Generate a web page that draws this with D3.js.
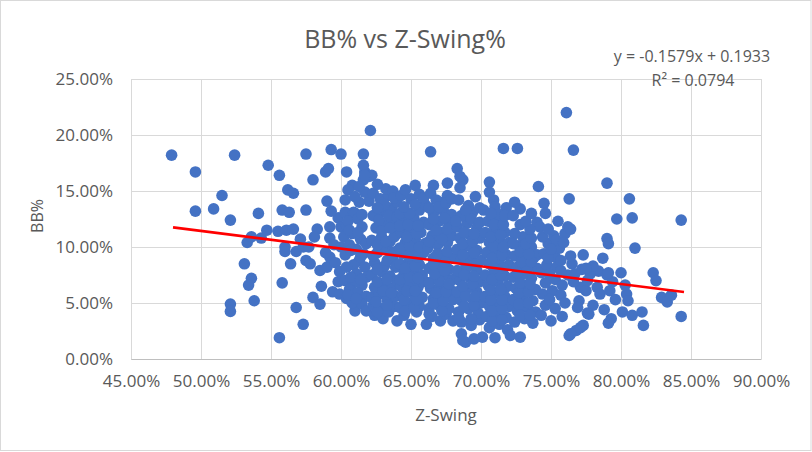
<!DOCTYPE html>
<html>
<head>
<meta charset="utf-8">
<script src="https://cdn.jsdelivr.net/npm/d3@7"></script>
<style>
  body { margin: 0; background: #fff; }
  svg { display: block; }
</style>
</head>
<body>
<div id="chart"></div>
<script>
// Data: Z-Swing % (x) and BB % (y)
const leftPoints = [
  [47.9,18.2],[49.6,16.7],[49.6,13.2],[52.4,18.2],[51.5,14.6],[50.9,13.4],[52.1,12.4],
  [52.1,4.9],[52.1,4.25],[53.1,8.5],[53.6,7.2],[53.4,6.6],[53.8,5.2],[53.3,10.4],[53.6,10.9],
  [54.1,13.0],[54.3,10.8],[54.7,11.5],[54.8,17.3],[55.6,16.4],[55.6,1.9],[55.8,6.8],
  [56.2,15.1],[56.6,14.8],[55.8,13.3],[56.3,13.1],[55.5,11.4],[56.1,11.5],[56.6,11.6],
  [56.0,10.0],[56.0,9.6],[56.8,9.6],[56.4,8.5],[57.1,10.7],[56.8,4.6],[57.3,3.1],[57.5,18.3],
  [57.5,13.3],[58.0,16.0],[58.9,16.7],[59.1,17.0],[59.0,14.1],[59.3,18.7],[60.0,18.3],
  [57.5,8.8],[57.8,8.5],[57.3,10.0],[57.7,10.0]
];

const band58 = [
  [58.3,11.6],[58.1,10.9],[59.2,11.8],[59.2,10.8],[58.6,6.5],[58.0,5.5],[58.5,4.9],[58.5,7.9],
  [59.0,8.2],[59.8,6.9],[59.2,9.1],[58.9,9.5],[59.5,10.2],[59.6,8.6],[59.9,7.8],[59.4,6.0],
  [59.9,5.8],[59.8,12.6],[59.3,13.2],[60.4,5.4]
];

const band60 = [
  [60.0,11.8],[60.4,11.9],[60.2,10.9],[60.0,10.0],[61.0,4.3],[60.3,13.1],[60.9,13.1],
  [60.3,14.2],[60.8,15.5],[60.5,15.1],[60.4,16.7],[61.0,13.0],[60.5,12.3],[61.2,12.5],
  [61.5,11.8],[60.8,11.2],[61.4,10.7],[61.8,10.3],[60.6,10.2],[61.1,9.8],[61.6,9.4],
  [60.3,9.3],[61.3,8.8],[60.9,8.4],[61.7,8.2],[60.4,8.2],[61.1,7.6],[61.8,7.3],[60.3,7.0],
  [60.9,6.8],[61.5,6.6],[60.6,6.2],[61.2,5.9],[61.8,5.6],[60.8,5.0],[61.5,4.9],[61.8,4.3],
  [62.0,14.1],[61.7,14.9],[61.3,14.0],[61.6,16.0],[62.0,16.3],[61.7,16.7],[61.6,17.3],
  [61.6,18.3],[62.1,20.4],[62.2,16.4],[61.7,16.4],
  [60.6,11.5],[61.2,11.3],[60.7,9.7],[61.4,9.1],[60.7,7.3],[61.4,7.1],[60.5,5.7],[61.1,5.4],
  [61.5,12.9],[61.0,14.5],[61.3,15.4]
];

const band62 = [
  [62.4,3.9],[63.0,3.6],[62.3,4.8],[62.8,4.5],[63.4,4.2],[63.8,4.7],[62.2,5.5],[62.7,5.8],
  [63.3,5.3],[63.9,5.6],[62.4,6.4],[63.0,6.7],[63.6,6.3],[62.2,7.5],[62.9,7.8],[63.5,7.4],
  [64.0,7.0],[62.4,8.6],[63.1,8.3],[63.7,8.9],[62.6,9.5],[63.3,9.9],[63.9,9.6],[62.2,10.6],
  [62.9,10.9],[63.5,10.5],[64.0,11.2],[62.5,11.7],[63.2,12.0],[63.8,12.3],[62.3,12.8],
  [62.9,13.2],[63.6,13.5],[62.3,14.8],[62.8,14.3],[63.4,14.6],[64.0,14.0],[63.2,15.2],
  [62.6,15.6],[63.7,15.0],
  [62.6,4.2],[63.3,4.8],[62.5,5.1],[63.0,6.1],[63.6,5.9],[62.6,6.9],[63.3,7.1],[62.6,8.0],
  [63.3,8.8],[63.9,8.2],[62.3,9.2],[62.9,9.9],[63.6,9.3],[62.6,10.2],[63.2,10.5],[63.8,10.9],
  [62.9,11.4],[63.5,11.7],[62.7,12.4],[63.4,12.8],[64.0,12.7],[63.1,13.8],[62.6,13.5],[63.8,14.4]
];

const band64 = [
  [64.0,3.4],[65.0,3.1],[64.5,3.9],[65.4,4.2],[64.2,4.6],[64.8,5.0],[65.6,4.7],[64.4,5.7],
  [65.1,5.9],[65.8,5.5],[64.3,6.5],[64.9,6.8],[65.5,6.4],[66.0,6.9],[64.5,7.6],[65.2,7.9],
  [65.8,7.5],[64.2,8.5],[64.9,8.8],[65.6,8.4],[64.4,9.4],[65.1,9.8],[65.9,9.5],[64.6,10.4],
  [65.3,10.7],[66.0,10.3],[64.3,11.3],[64.9,11.6],[65.7,11.3],[64.5,12.3],[65.2,12.6],
  [65.9,12.2],[64.2,13.0],[65.6,13.3],[66.0,13.8],[64.3,14.6],[65.3,15.5],[65.0,14.3],
  [65.6,14.7],[64.6,15.1],
  [64.6,4.3],[65.2,4.6],[64.5,5.3],[65.4,5.3],[64.7,6.1],[65.3,6.1],[64.2,7.1],[64.9,7.3],
  [65.5,7.2],[64.6,8.1],[65.3,8.3],[64.8,9.2],[65.5,9.1],[64.2,9.9],[64.9,10.1],[65.6,10.0],
  [64.7,10.9],[65.4,11.2],[64.2,11.9],[64.8,12.0],[65.5,11.9],[64.9,13.0],[65.3,13.8],
  [64.5,13.6],[65.9,14.4]
];

const band66 = [
  [66.1,3.1],[67.1,3.4],[66.5,3.8],[67.5,4.0],[66.3,4.5],[67.0,4.8],[67.7,4.5],[66.6,5.4],
  [67.3,5.7],[68.0,5.3],[66.4,6.3],[67.1,6.5],[67.8,6.2],[66.7,7.2],[67.4,7.5],[68.0,7.1],
  [66.3,8.1],[67.0,8.4],[67.7,8.0],[66.6,9.0],[67.3,9.3],[68.0,9.0],[66.2,9.9],[66.9,10.2],
  [67.6,10.4],[66.5,11.0],[67.2,11.3],[67.9,11.0],[66.3,12.0],[67.0,12.3],[67.7,12.1],
  [66.6,13.0],[67.3,13.3],[67.9,12.9],[66.6,15.5],[67.6,15.7],[66.4,14.8],[67.1,14.0],
  [66.8,14.2],[67.6,14.6],[66.4,18.5],
  [66.3,4.0],[67.2,4.3],[66.6,5.0],[67.3,5.2],[66.8,5.9],[67.5,6.0],[66.3,6.8],[67.0,7.0],
  [67.7,6.7],[66.7,7.6],[67.4,7.9],[66.6,8.5],[67.4,8.7],[66.9,9.4],[67.6,9.6],[66.3,10.5],
  [67.2,10.7],[66.8,11.5],[67.6,11.6],[66.6,12.5],[67.4,12.6],[66.3,13.5],[67.0,13.6],
  [67.5,13.9],[67.9,14.3]
];

const band68 = [
  [68.0,3.4],[68.6,2.25],[68.9,1.5],[68.7,1.65],[69.5,1.8],[70.1,1.95],[68.6,3.3],[69.3,3.0],
  [69.9,3.5],[68.4,4.2],[69.1,4.5],[69.8,4.1],[68.6,5.2],[69.4,5.4],[70.0,5.0],[68.3,6.0],
  [69.0,6.3],[69.7,6.0],[68.5,7.0],[69.2,7.3],[69.9,6.9],[68.3,7.9],[69.0,8.2],[69.7,7.9],
  [68.6,8.9],[69.3,9.2],[70.0,8.8],[68.3,9.8],[69.0,10.1],[69.7,9.7],[68.5,10.8],[69.2,11.1],
  [69.9,10.8],[68.3,11.8],[69.0,12.1],[69.7,11.7],[68.6,12.8],[69.4,13.1],[68.4,14.2],
  [69.1,13.7],[68.5,15.3],[68.7,16.0],[68.3,17.0],[68.5,16.3],[69.6,14.5],
  [68.4,3.7],[69.3,3.6],[68.8,4.7],[69.5,4.8],[68.9,5.6],[69.6,5.6],[68.7,6.5],[69.4,6.7],
  [68.8,7.5],[69.5,7.4],[68.9,8.5],[69.6,8.5],[68.7,9.3],[69.5,9.5],[68.7,10.3],[69.4,10.5],
  [68.8,11.3],[69.5,11.2],[68.2,12.3],[69.3,12.5],[69.9,12.2],[68.9,13.3],[69.9,13.5]
];

const band70 = [
  [71.0,1.9],[70.6,2.8],[71.3,3.1],[71.9,2.6],[70.4,3.8],[71.1,4.1],[71.8,3.7],[70.6,4.7],
  [71.3,5.0],[72.0,4.7],[70.3,5.6],[71.0,5.9],[71.7,5.6],[70.5,6.6],[71.2,6.9],[71.9,6.5],
  [70.3,7.5],[71.0,7.8],[71.7,7.4],[70.6,8.5],[71.3,8.8],[72.0,8.4],[70.4,9.5],[71.1,9.7],
  [71.8,9.3],[70.6,10.4],[71.3,10.7],[72.0,10.4],[70.3,11.3],[71.0,11.6],[71.7,11.3],
  [70.5,12.3],[71.2,12.6],[70.9,14.2],[71.0,13.6],[71.8,13.5],[70.6,15.8],[70.6,14.9],
  [71.6,18.8],[72.6,18.8],[71.3,12.9],[70.2,13.3],
  [70.8,3.4],[71.5,3.5],[70.8,4.3],[71.5,4.5],[70.7,5.3],[71.5,5.3],[70.7,6.2],[71.4,6.2],
  [70.8,7.1],[71.4,7.5],[70.9,8.1],[71.6,8.1],[70.8,9.0],[71.5,9.3],[70.9,10.1],[71.6,10.0],
  [70.7,10.9],[71.4,11.1],[70.9,12.0],[71.6,12.0],[71.7,12.8],[70.7,13.0]
];

const band72 = [
  [72.1,2.1],[72.8,1.95],[72.4,3.3],[73.1,3.6],[73.7,3.2],[72.6,4.3],[73.3,4.6],[73.9,4.2],
  [72.3,5.3],[73.0,5.6],[73.7,5.2],[72.5,6.3],[73.2,6.6],[73.9,6.2],[72.3,7.3],[73.0,7.6],
  [73.6,7.2],[72.6,8.2],[73.3,8.5],[74.0,8.1],[72.4,9.2],[73.1,9.5],[73.8,9.1],[72.7,10.1],
  [73.6,10.0],[73.0,10.9],[72.4,11.2],[72.8,12.0],[72.8,13.4],[74.0,9.3],[74.0,12.2],
  [74.2,11.8],[74.5,13.9],[74.6,13.0],[74.1,15.4],[72.3,12.8],
  [72.8,3.9],[73.5,3.9],[72.7,4.9],[73.4,5.0],[72.7,5.9],[73.4,6.0],[72.8,6.8],[73.5,6.7],
  [72.6,7.7],[73.3,7.9],[72.9,8.7],[73.6,8.7],[72.8,9.6],[73.4,9.4],[72.3,10.3],[73.2,10.3],
  [73.6,10.8],[73.5,11.6],[73.2,12.3],[73.6,13.0],[72.4,14.0]
];

const band74 = [
  [74.3,3.9],[75.0,3.4],[74.6,4.8],[75.3,4.5],[74.4,5.8],[75.1,6.1],[75.7,5.7],[74.6,6.8],
  [75.3,7.1],[74.3,7.7],[74.7,8.4],[75.4,8.2],[76.2,7.5],[74.5,9.4],[75.3,9.1],[75.6,9.9],
  [74.8,10.3],[75.2,11.0],[75.4,10.6],[74.4,10.9],[76.0,11.2],[76.2,11.8],[76.3,14.3],
  [76.1,22.0],[76.6,18.65],[75.8,6.6],[76.0,5.0],[75.8,3.8],[76.3,2.1],[76.8,2.55],[77.3,3.0],
  [74.9,5.3],[74.9,7.6],[75.7,7.9],[74.8,9.0],[75.7,8.8],[75.0,9.8],[75.9,10.4],[74.8,11.6],
  [75.5,12.3]
];

const band76 = [
  [76.5,8.5],[76.7,7.6],[77.0,5.2],[77.1,6.4],[77.5,6.1],[78.3,6.4],[78.5,5.8],[77.6,4.1],
  [78.4,7.85],[79.0,7.5],[77.8,7.6],[79.2,6.1],[79.4,6.9],[79.1,7.7],[80.0,7.7],[79.3,3.6],
  [79.1,3.2],[77.3,9.3],[78.7,9.0],[79.0,10.75],[79.1,10.3],[79.0,15.7],[79.7,12.5],
  [76.4,9.2],[76.9,4.6],[78.0,4.8],[78.8,4.4],[79.6,5.3],[78.0,8.3],[77.6,7.0],[76.6,6.9],
  [77.2,8.0],[76.4,11.6],[77.5,8.1],[77.7,4.0],[76.4,2.25],[77.1,2.8]
];

const band80 = [
  [80.6,14.3],[80.8,12.6],[81.0,9.9],[80.4,5.8],[80.5,5.2],[80.1,4.2],[80.8,3.9],[81.5,4.2],
  [81.6,3.0],[82.3,7.7],[82.5,7.0],[82.9,5.5],[83.3,5.1],[83.6,5.7],[84.3,3.8],[84.3,12.4],
  [80.3,6.6]
];

const points = [].concat(leftPoints, band58, band60, band62, band64, band66, band68,
  band70, band72, band74, band76, band80);

// Linear trendline shown on the chart
const trendSlope = -0.1579;
const trendIntercept = 0.1933;
const trendRange = [48.0, 84.5];

const xTicks = [45, 50, 55, 60, 65, 70, 75, 80, 85, 90];
const yTicks = [0, 5, 10, 15, 20, 25];

const W = 812, H = 452;
const margin = { top: 79, right: 51, bottom: 93, left: 131 };
const width = W - margin.left - margin.right;
const height = H - margin.top - margin.bottom;

const svg = d3.select("#chart").append("svg")
  .attr("width", W)
  .attr("height", H);

svg.append("rect")
  .attr("x", 0.5).attr("y", 0.5)
  .attr("width", W - 1.5).attr("height", H - 2)
  .attr("fill", "#fff")
  .attr("stroke", "#D9D9D9");

const g = svg.append("g")
  .attr("transform", `translate(${margin.left},${margin.top})`);

const x = d3.scaleLinear().domain([45, 90]).range([0, width]);
const y = d3.scaleLinear().domain([0, 25]).range([height, 0]);

const fmt = d => d.toFixed(2) + "%";
const textColor = "#595959";
const font = "'Open Sans', sans-serif";

// gridlines
g.append("g")
  .call(d3.axisLeft(y).tickValues(yTicks).tickSize(-width).tickFormat(""))
  .call(a => a.select(".domain").remove())
  .selectAll("line").attr("stroke", "#D9D9D9");

g.append("g")
  .attr("transform", `translate(0,${height})`)
  .call(d3.axisBottom(x).tickValues(xTicks).tickSize(-height).tickFormat(""))
  .call(a => a.select(".domain").remove())
  .selectAll("line").attr("stroke", "#D9D9D9");

// axis labels
const yAxis = g.append("g")
  .call(d3.axisLeft(y).tickValues(yTicks).tickSize(0).tickPadding(18).tickFormat(fmt));
yAxis.select(".domain").remove();
yAxis.selectAll("text")
  .style("font-family", font).style("font-size", "17px").attr("fill", textColor);

const xAxis = g.append("g")
  .attr("transform", `translate(0,${height})`)
  .call(d3.axisBottom(x).tickValues(xTicks).tickSize(0).tickPadding(16).tickFormat(fmt));
xAxis.select(".domain").attr("stroke", "#BFBFBF");
xAxis.selectAll("text")
  .style("font-family", font).style("font-size", "17px").attr("fill", textColor);

// points
g.selectAll("circle.pt")
  .data(points)
  .join("circle")
  .attr("class", "pt")
  .attr("cx", d => x(d[0]))
  .attr("cy", d => y(d[1]))
  .attr("r", 5.8)
  .attr("fill", "#4472C4");

// trendline
const trendLine = d3.line()
  .x(v => x(v))
  .y(v => y((trendSlope * v / 100 + trendIntercept) * 100));

g.append("path")
  .attr("d", trendLine(trendRange))
  .attr("stroke", "#FF0000")
  .attr("stroke-width", 2.6)
  .attr("fill", "none");

// titles
svg.append("text")
  .attr("x", 405).attr("y", 48)
  .attr("text-anchor", "middle")
  .style("font-family", font).style("font-size", "25px")
  .attr("fill", textColor)
  .text("BB% vs Z-Swing%");

svg.append("text")
  .attr("x", 692).attr("y", 62)
  .attr("text-anchor", "middle")
  .style("font-family", font).style("font-size", "16px")
  .attr("fill", textColor)
  .text("y = -0.1579x + 0.1933");

svg.append("text")
  .attr("x", 693).attr("y", 86)
  .attr("text-anchor", "middle")
  .style("font-family", font).style("font-size", "16px")
  .attr("fill", textColor)
  .text("R² = 0.0794");

svg.append("text")
  .attr("x", 446).attr("y", 421)
  .attr("text-anchor", "middle")
  .style("font-family", font).style("font-size", "17px")
  .attr("fill", textColor)
  .text("Z-Swing");

svg.append("text")
  .attr("transform", "translate(43,216) rotate(-90)")
  .attr("text-anchor", "middle")
  .style("font-family", font).style("font-size", "16px")
  .attr("fill", textColor)
  .text("BB%");
</script>
</body>
</html>
